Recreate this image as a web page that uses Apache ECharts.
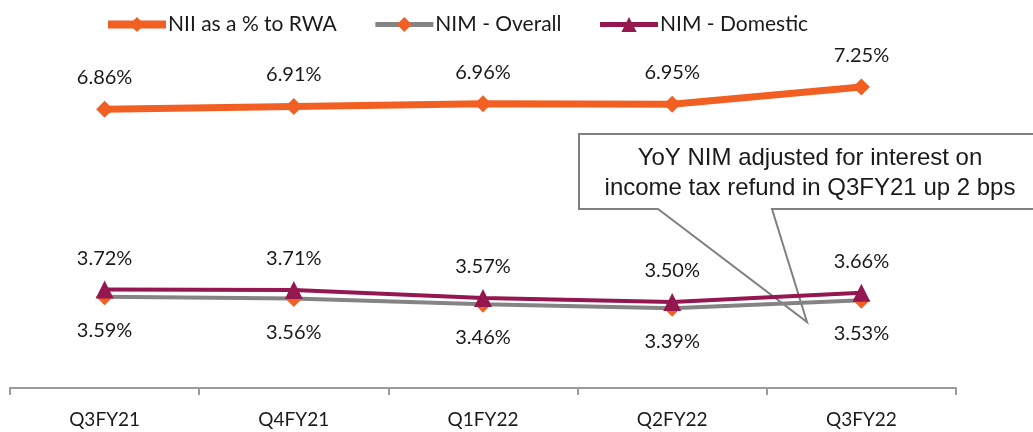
<!DOCTYPE html>
<html>
<head>
<meta charset="utf-8">
<script src="https://cdn.jsdelivr.net/npm/echarts@6/dist/echarts.min.js"></script>
<style>
html,body{margin:0;padding:0;background:#fff;}
#chart{width:1033px;height:432px;}
</style>
</head>
<body>
<div id="chart"></div>
<script>
const categories = ['Q3FY21', 'Q4FY21', 'Q1FY22', 'Q2FY22', 'Q3FY22'];
const niiRwa = [6.86, 6.91, 6.96, 6.95, 7.25];
const nimOverall = [3.59, 3.56, 3.46, 3.39, 3.53];
const nimDomestic = [3.72, 3.71, 3.57, 3.50, 3.66];
const seriesNames = ['NII as a % to RWA', 'NIM - Overall', 'NIM - Domestic'];
const calloutLines = ['YoY NIM adjusted for interest on', 'income tax refund in Q3FY21 up 2 bps'];

const ORANGE = '#F15F22';
const GRAY = '#848484';
const MAROON = '#951750';
const FONT = 'Lato';

const chart = echarts.init(document.getElementById('chart'));

function lbl(pos, dist) {
  return {
    show: true, position: pos, distance: dist,
    fontFamily: FONT, fontSize: 20, color: '#1a1a1a',
    formatter: p => p.value.toFixed(2) + '%'
  };
}

chart.setOption({
  animation: false,
  backgroundColor: '#fff',
  legend: {
    left: 99, top: 9,
    itemWidth: 58, itemHeight: 19, itemGap: 36,
    textStyle: { fontFamily: FONT, fontSize: 21, color: '#1a1a1a', padding: [0, 0, 0, -3] },
    data: [
      { name: seriesNames[0], lineStyle: { width: 8 } },
      { name: seriesNames[1], lineStyle: { width: 5 } },
      { name: seriesNames[2], lineStyle: { width: 5 } }
    ]
  },
  grid: { left: 10, right: 77, top: 44, bottom: 44, containLabel: false },
  xAxis: {
    type: 'category', data: categories, boundaryGap: true,
    axisLine: { lineStyle: { color: '#9a9a9a', width: 2 } },
    axisTick: { show: true, length: 7, lineStyle: { color: '#9a9a9a', width: 2 } },
    axisLabel: { fontFamily: FONT, fontSize: 19, color: '#1a1a1a', margin: 22 }
  },
  yAxis: { type: 'value', min: 2, max: 8, show: false, splitLine: { show: false } },
  graphic: [
    {
      type: 'polygon', z: 0,
      shape: { points: [[579, 134], [1040, 134], [1040, 209], [772, 209], [807, 322], [658, 209], [579, 209]] },
      style: { fill: '#fff', stroke: '#808080', lineWidth: 2 }
    },
    {
      type: 'text', z: 0, x: 810, y: 143,
      style: {
        text: calloutLines.join('\n'), textAlign: 'center', textVerticalAlign: 'top',
        fontFamily: 'Liberation Sans', fontSize: 24, lineHeight: 30, fill: '#1a1a1a'
      }
    }
  ],
  series: [
    {
      name: seriesNames[0], type: 'line', data: niiRwa, z: 5,
      symbol: 'diamond', symbolSize: 17,
      lineStyle: { color: ORANGE, width: 7 }, itemStyle: { color: ORANGE },
      label: lbl('top', 13)
    },
    {
      name: seriesNames[1], type: 'line', data: nimOverall, z: 5,
      symbol: 'diamond', symbolSize: 17,
      lineStyle: { color: GRAY, width: 4 }, itemStyle: { color: ORANGE },
      label: lbl('bottom', 15)
    },
    {
      name: seriesNames[2], type: 'line', data: nimDomestic, z: 6,
      symbol: 'triangle', symbolSize: 18,
      lineStyle: { color: MAROON, width: 4 }, itemStyle: { color: MAROON },
      label: lbl('top', 12)
    }
  ]
});
</script>
</body>
</html>
